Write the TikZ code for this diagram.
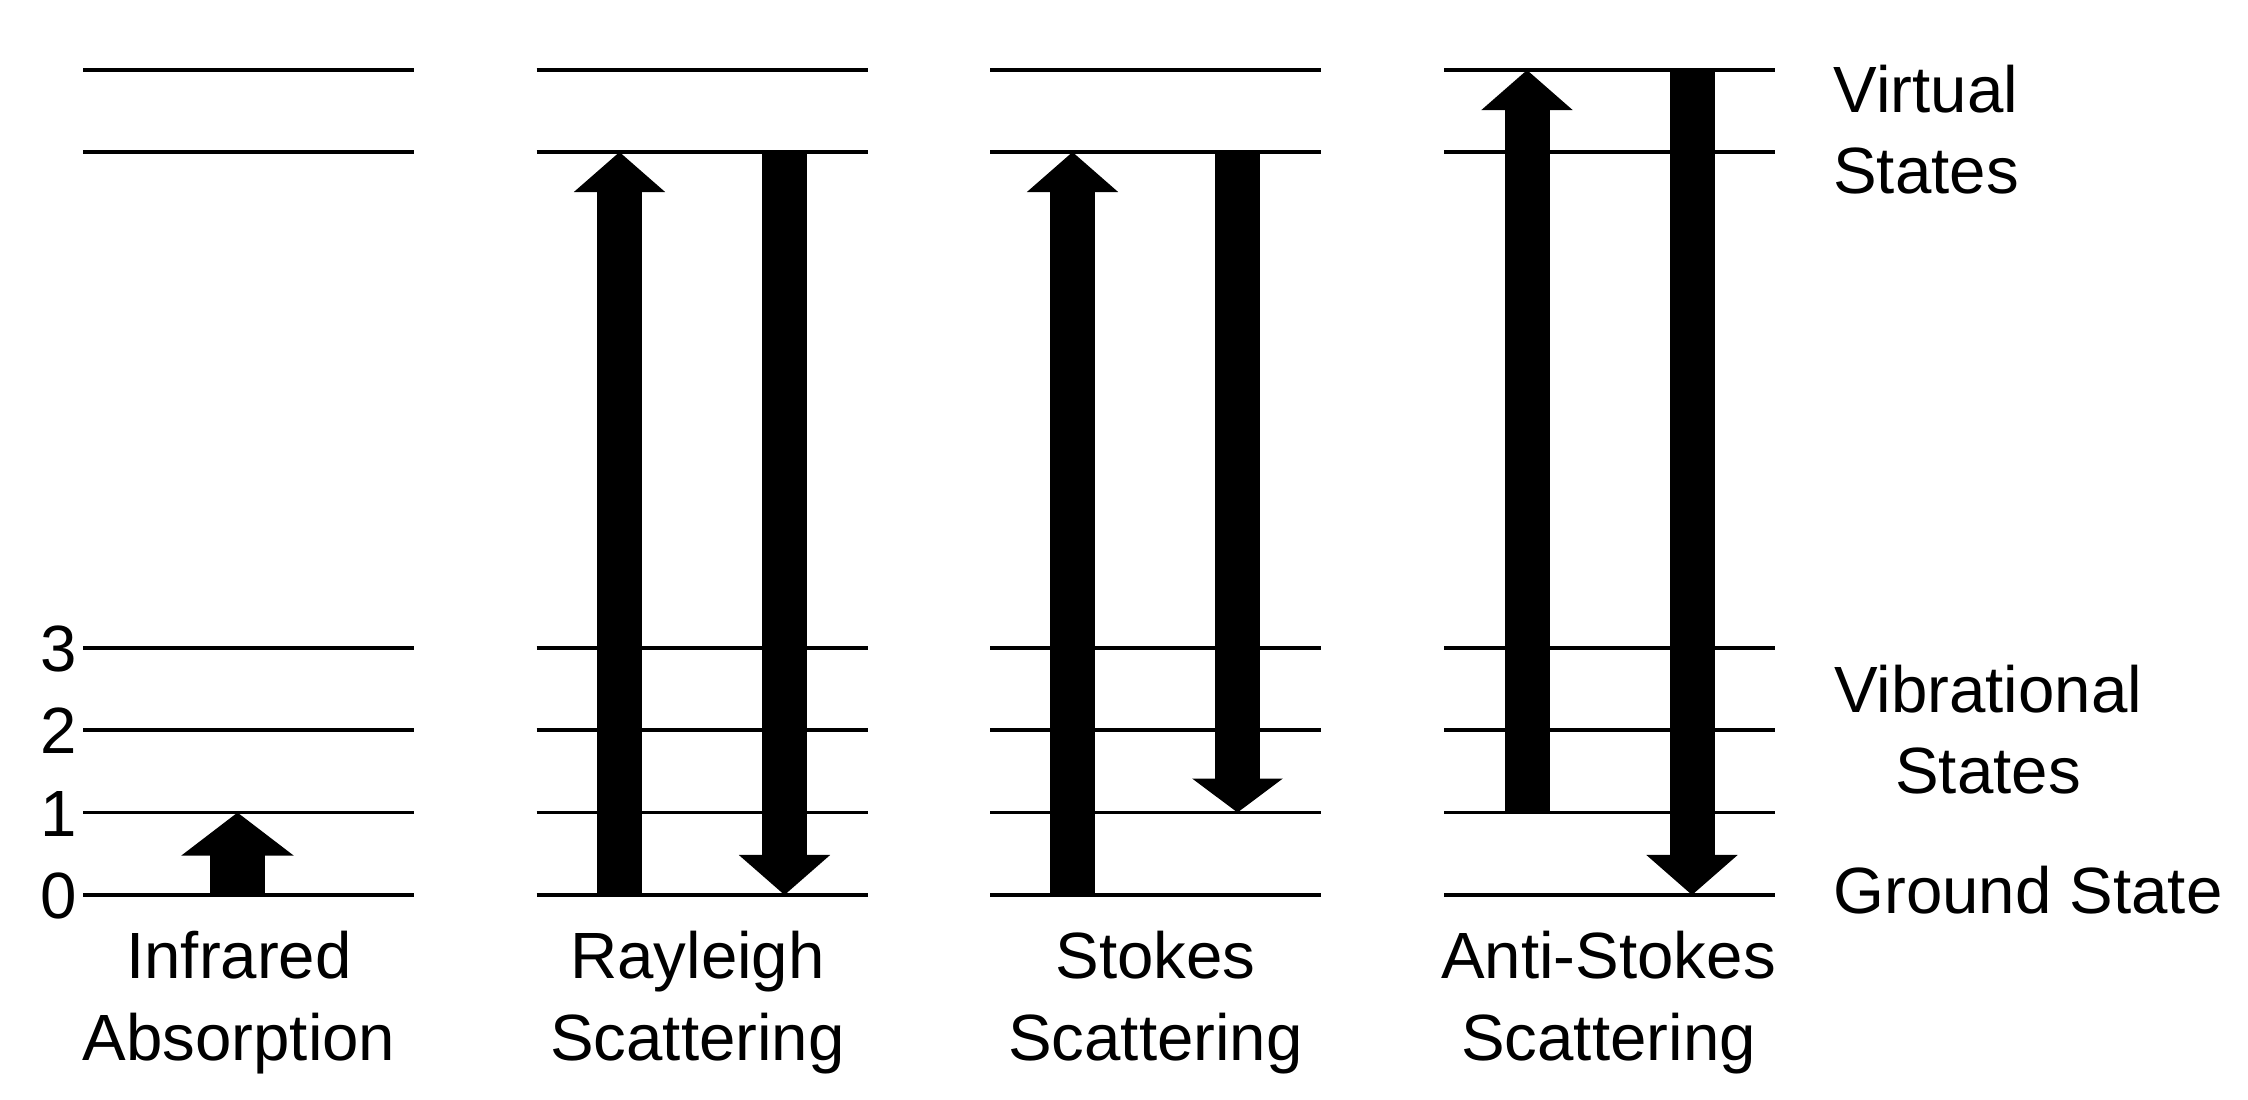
\documentclass[tikz,border=0pt]{standalone}
\usepackage{fontspec}
\setmainfont{Liberation Sans}
\usetikzlibrary{arrows.meta}
\begin{document}
\begin{tikzpicture}[x=0.01cm,y=-0.01cm,
  levelline/.style={line width=0.036cm},
  lbl/.style={font=\fontsize{18.6pt}{22pt}\selectfont, inner sep=0pt, anchor=base},
  bigarrow/.style={line width=0.45cm, -{Triangle[width=0.89cm,length=0.40cm]}},
  shortarrow/.style={line width=0.45cm, -{Triangle[width=0.89cm,length=0.34cm]}},
  irarrow/.style={line width=0.55cm, -{Triangle[width=1.10cm,length=0.43cm]}}]
\useasboundingbox (0,0) rectangle (2248,1099);
\fill[white] (0,0) rectangle (2248,1099);
% energy levels
\foreach \c in {83,536.5,990,1444} {
  \foreach \y in {70,152,648,730,812.5,895} {
    \draw[levelline] (\c,\y) -- ++(331,0);
  }
}
% arrow end points
\coordinate (ir0) at (237.5,895);   \coordinate (ir1) at (237.5,812.5);
\coordinate (ru0) at (619.5,895);   \coordinate (ru1) at (619.5,152);
\coordinate (rd0) at (784.5,152);   \coordinate (rd1) at (784.5,895);
\coordinate (su0) at (1072.5,895);  \coordinate (su1) at (1072.5,152);
\coordinate (sd0) at (1237.5,152);  \coordinate (sd1) at (1237.5,812.5);
\coordinate (au0) at (1527,812.5);  \coordinate (au1) at (1527,70);
\coordinate (ad0) at (1692,70);     \coordinate (ad1) at (1692,895);
\draw[irarrow] (ir0) -- (ir1);
\draw[bigarrow] (ru0) -- (ru1);
\draw[bigarrow] (rd0) -- (rd1);
\draw[bigarrow] (su0) -- (su1);
\draw[shortarrow] (sd0) -- (sd1);
\draw[bigarrow] (au0) -- (au1);
\draw[bigarrow] (ad0) -- (ad1);
% level numbers
\node[lbl] (n0) at (59,918.5) {0};
\node[lbl] (n1) at (59,836) {1};
\node[lbl] (n2) at (59,753.5) {2};
\node[lbl] (n3) at (59,671.5) {3};
% bottom labels
\node[lbl] (ira) at (239,978) {Infrared};
\node[lbl] (irb) at (239,1060) {Absorption};
\node[lbl] (ra) at (697.5,978) {Rayleigh};
\node[lbl] (rb) at (697.5,1060) {Scattering};
\node[lbl] (sa) at (1155.5,978) {Stokes};
\node[lbl] (sb) at (1155.5,1060) {Scattering};
\node[lbl] (aa) at (1608.5,978) {Anti-Stokes};
\node[lbl] (ab) at (1608.5,1060) {Scattering};
% right labels
\node[lbl] (va) at (1926,112) {Virtual};
\node[lbl] (vb) at (1926,193) {States};
\node[lbl] (via) at (1988,712) {Vibrational};
\node[lbl] (vib) at (1988,793) {States};
\node[lbl] (gs) at (2028,913) {Ground State};
\end{tikzpicture}
\end{document}
